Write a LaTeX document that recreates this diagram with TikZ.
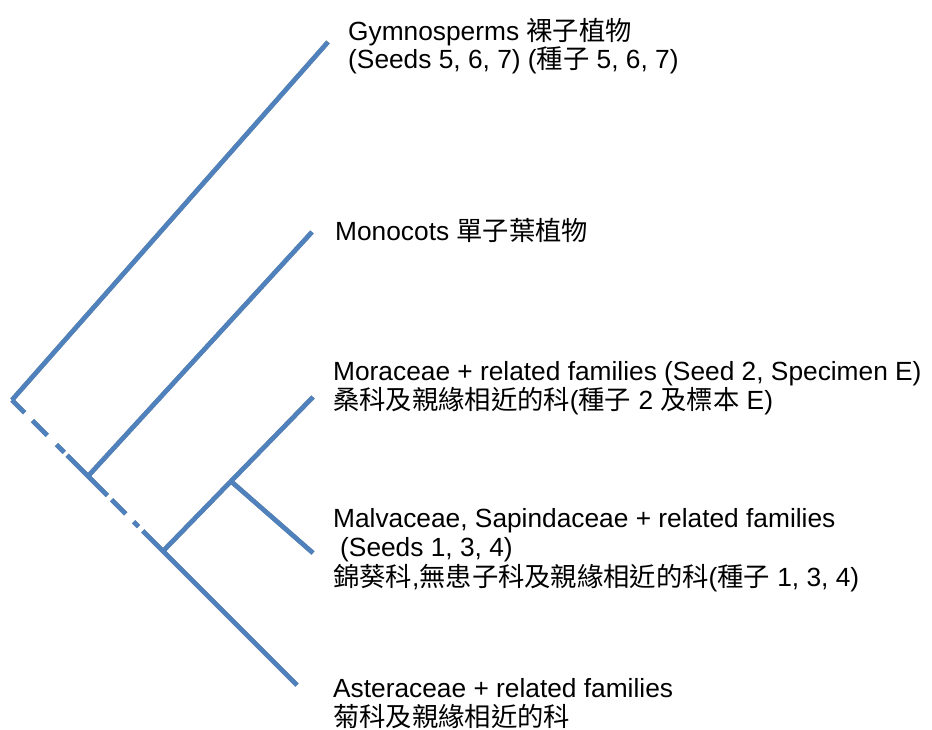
\documentclass[tikz,border=0pt]{standalone}
\usepackage{fontspec}
\setmainfont{Liberation Sans}
\newfontfamily\cjk{Noto Sans CJK TC}
\usetikzlibrary{calc}
\definecolor{lineblue}{HTML}{4F81BD}
\definecolor{shadowgray}{HTML}{8E8E8E}
\newcommand\drawtreepaths[1]{%
  \draw[#1, dash pattern=on 18pt off 11pt on 21pt off 13pt on 11pt off 4pt on 57pt off 6pt on 20pt off 11pt on 7pt off 6pt] (R) -- (D);
  \draw[#1] (D) -- (A);
  \draw[#1] (R) -- (G);
  \draw[#1] (M) -- (Mt);
  \draw[#1] (J) -- (Rt);
  \draw[#1] (K) -- (St);
}
\begin{document}
\begin{tikzpicture}[x=1pt,y=-1pt,
  branch/.style={line width=4.6pt, draw=lineblue},
  shadowline/.style={line width=4.6pt, draw=shadowgray},
  lbl/.style={anchor=base west, inner sep=0pt, font=\fontsize{26.3}{30}\selectfont}]
\useasboundingbox (0,0) rectangle (932,729);
% tree points
\coordinate (R) at (12,400);
\coordinate (A) at (297,685);
\coordinate (G) at (328,42);
\coordinate (D) at ($(R)!0.46!(A)$);
\coordinate (M) at ($(R)!0.267!(A)$);
\coordinate (Mt) at (312,232);
\coordinate (J) at ($(R)!0.53!(A)$);
\coordinate (Rt) at (313,397);
\coordinate (K) at ($(J)!0.453!(Rt)$);
\coordinate (St) at (313,553);
% shadows
\begin{scope}[shift={(2,2.3)}]
  \drawtreepaths{shadowline}
\end{scope}
% lines
\drawtreepaths{branch}
% labels
\node[lbl] (gym1) at (348,40) {Gymnosperms {\cjk 裸子植物}};
\node[lbl] (gym2) at (348,68) {(Seeds 5, 6, 7) ({\cjk 種子} 5, 6, 7)};
\node[lbl] (mono) at (335,240) {Monocots {\cjk 單子葉植物}};
\node[lbl] (mor1) at (333,380) {Moraceae + related families (Seed 2, Specimen E)};
\node[lbl] (mor2) at (333,409) {{\cjk 桑科及親緣相近的科}({\cjk 種子} 2 {\cjk 及標本} E)};
\node[lbl] (mal1) at (333,527) {Malvaceae, Sapindaceae + related families};
\node[lbl] (mal2) at (340,556) {(Seeds 1, 3, 4)};
\node[lbl] (mal3) at (333,586) {{\cjk 錦葵科},{\cjk 無患子科及親緣相近的科}({\cjk 種子} 1, 3, 4)};
\node[lbl] (ast1) at (333,697) {Asteraceae + related families};
\node[lbl] (ast2) at (333,726) {{\cjk 菊科及親緣相近的科}};
\end{tikzpicture}
\end{document}
